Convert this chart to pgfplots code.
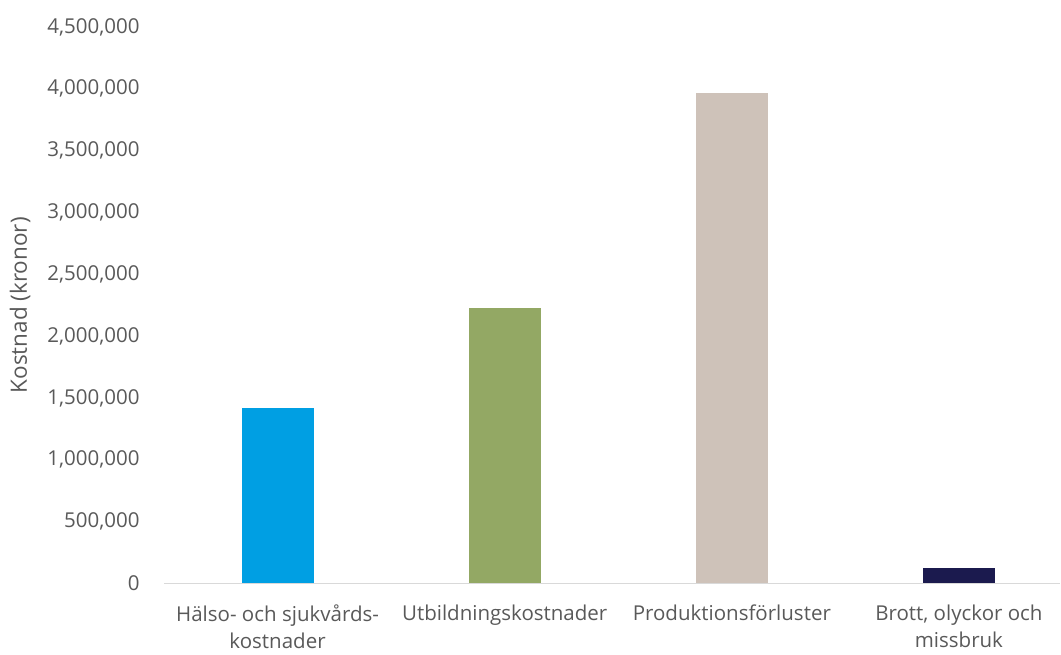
\documentclass[border=0pt]{standalone}
\usepackage{fontspec}
\setmainfont{Open Sans}
\usepackage{pgfplots}
\pgfplotsset{compat=1.18}
\definecolor{tickgray}{HTML}{595959}
\definecolor{axgray}{HTML}{D9D9D9}
\definecolor{barblue}{HTML}{009FE3}
\definecolor{bargreen}{HTML}{93A864}
\definecolor{barbeige}{HTML}{CEC2B9}
\definecolor{barnavy}{HTML}{1B1A4E}
\begin{document}
\begin{tikzpicture}[x=1bp,y=1bp]
\useasboundingbox (0,0) rectangle (1061,655);
\begin{axis}[
  at={(164bp,71.5bp)}, anchor=south west,
  scale only axis, width=896bp, height=556.5bp,
  xmin=-0.5, xmax=3.445, ymin=0, ymax=4500000,
  ytick={0,500000,1000000,1500000,2000000,2500000,3000000,3500000,4000000,4500000},
  scaled y ticks=false,
  /pgf/number format/.cd, fixed, precision=0, 1000 sep={,}, assume math mode=true,
  /pgfplots/.cd,
  xtick={0,1,2,3},
  xticklabels={{Hälso- och sjukvårds-\\kostnader},{Utbildningskostnader},{Produktionsförluster},{Brott, olyckor och\\missbruk}},
  xticklabel style={align=center, font=\fontsize{20.5bp}{27bp}\selectfont, text=tickgray, yshift=-18bp},
  yticklabel style={font=\fontsize{20.5bp}{24bp}\selectfont, text=tickgray, xshift=-21bp},
  major tick length=0pt,
  axis x line*=bottom,
  axis y line*=left,
  x axis line style={draw=axgray, line width=1.3bp, -},
  y axis line style={draw=none},
  ylabel={Kostnad (kronor)},
  ylabel style={at={(axis description cs:-0.1607,0.5)}, anchor=center, font=\fontsize{22.5bp}{24bp}\selectfont, text=tickgray},
  ybar, bar width=72bp,
  clip=false,
]
\addplot[ybar, bar shift=0pt, fill=barblue, draw=none] coordinates {(0,1418000)};
\addplot[ybar, bar shift=0pt, fill=bargreen, draw=none] coordinates {(1,2226000)};
\addplot[ybar, bar shift=0pt, fill=barbeige, draw=none] coordinates {(2,3963000)};
\addplot[ybar, bar shift=0pt, fill=barnavy, draw=none] coordinates {(3,125000)};
\end{axis}
\end{tikzpicture}
\end{document}
